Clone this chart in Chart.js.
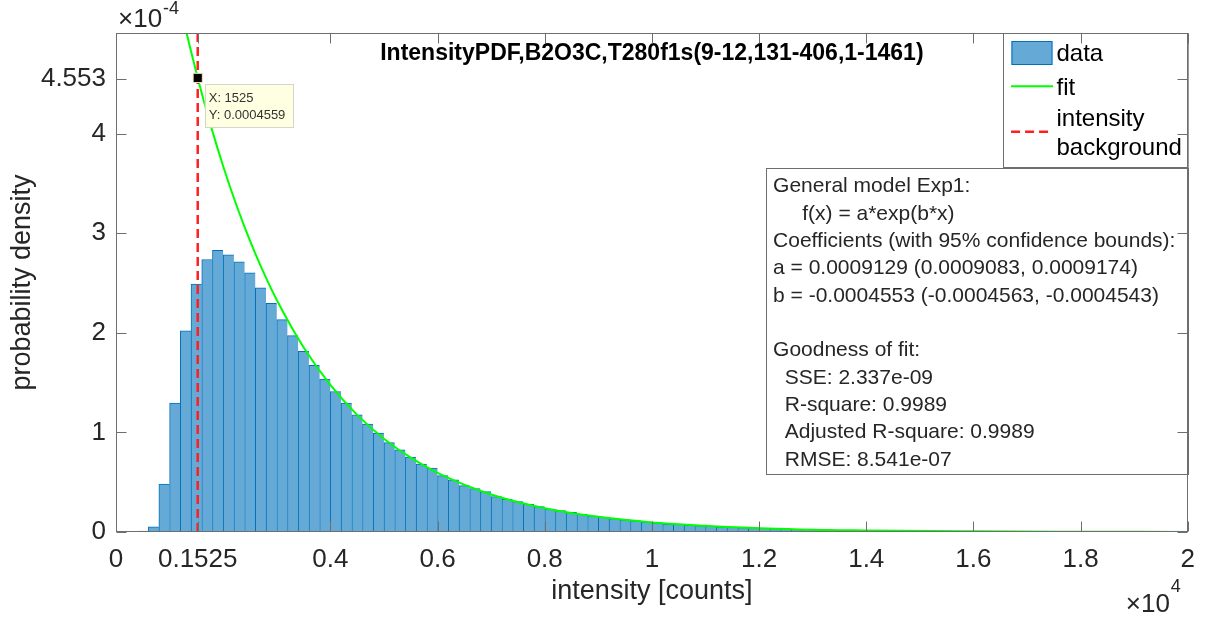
<!DOCTYPE html>
<html>
<head>
<meta charset="utf-8">
<script src="https://cdn.jsdelivr.net/npm/chart.js@4.4.0/dist/chart.umd.min.js"></script>
<style>
  html, body { margin: 0; padding: 0; background: #fff; }
</style>
</head>
<body>
<canvas id="pdfChart" width="1207" height="618"></canvas>
<script>
// histogram bins (bin centres, counts) and probability density (x 1e-4)
var binCenters = [
  500, 700, 900, 1100, 1300, 1500, 1700, 1900, 2100, 2300,
  2500, 2700, 2900, 3100, 3300, 3500, 3700, 3900, 4100, 4300,
  4500, 4700, 4900, 5100, 5300, 5500, 5700, 5900, 6100, 6300,
  6500, 6700, 6900, 7100, 7300, 7500, 7700, 7900, 8100, 8300,
  8500, 8700, 8900, 9100, 9300, 9500, 9700, 9900, 10100, 10300,
  10500, 10700, 10900, 11100, 11300, 11500, 11700, 11900, 12100, 12300,
  12500, 12700, 12900, 13100, 13300, 13500, 13700, 13900, 14100, 14300,
  14500, 14700, 14900, 15100, 15300, 15500, 15700, 15900, 16100, 16300,
  16500, 16700, 16900, 17100, 17300, 17500, 17700, 17900, 18100, 18300,
  18500, 18700, 18900, 19100, 19300, 19500, 19700, 19900
];
var density = [
  0.01, 0.053, 0.48, 1.295, 2.02, 2.49, 2.736, 2.827, 2.783, 2.713,
  2.603, 2.452, 2.297, 2.133, 1.972, 1.814, 1.673, 1.535, 1.411, 1.295,
  1.177, 1.083, 0.993, 0.898, 0.825, 0.751, 0.681, 0.641, 0.566, 0.523,
  0.466, 0.436, 0.405, 0.355, 0.329, 0.305, 0.278, 0.255, 0.231, 0.214,
  0.198, 0.178, 0.161, 0.148, 0.134, 0.121, 0.111, 0.101, 0.091, 0.080,
  0.077, 0.070, 0.064, 0.058, 0.053, 0.049, 0.044, 0.041, 0.037, 0.034,
  0.031, 0.028, 0.026, 0.024, 0.021, 0.020, 0.018, 0.016, 0.015, 0.014,
  0.012, 0.011, 0.010, 0.009, 0.009, 0.008, 0.007, 0.007, 0.006, 0.005,
  0.005, 0.005, 0.004, 0.004, 0.004, 0.003, 0.003, 0.003, 0.002, 0.002,
  0.002, 0.002, 0.002, 0.002, 0.001, 0.001, 0.001, 0.001
];

// fitted curve, sampled (x in counts, y x 1e-4)
var fitX = [1300, 1400, 1525, 1600, 1800, 2000, 2200, 2400, 2600, 2800, 3000,
            3500, 4000, 4500, 5000, 5500, 6000, 7000, 8000, 9000, 10000,
            12000, 14000, 16000, 18000, 20000];
var fitY = [5.051, 4.826, 4.559, 4.406, 4.022, 3.672, 3.353, 3.061, 2.795, 2.551, 2.330,
            1.855, 1.477, 1.176, 0.937, 0.746, 0.594, 0.377, 0.239, 0.152, 0.0962,
            0.0387, 0.0156, 0.0063, 0.0025, 0.0010];

var bgIntensity = 1525;
var tipX = 1525;
var tipY = 4.559;

var xTicks = [0, 1525, 4000, 6000, 8000, 10000, 12000, 14000, 16000, 18000, 20000];
var yTicks = [0, 1, 2, 3, 4, 4.553];
var xMax = 20000;
var yMax = 5.01;

var chartTitle = 'IntensityPDF,B2O3C,T280f1s(9-12,131-406,1-1461)';
var fitLines = [
  'General model Exp1:',
  '     f(x) = a*exp(b*x)',
  'Coefficients (with 95% confidence bounds):',
  'a = 0.0009129 (0.0009083, 0.0009174)',
  'b = -0.0004553 (-0.0004563, -0.0004543)',
  '',
  'Goodness of fit:',
  '  SSE: 2.337e-09',
  '  R-square: 0.9989',
  '  Adjusted R-square: 0.9989',
  '  RMSE: 8.541e-07'
];

var FONT = "'Liberation Sans', Arial, Helvetica, sans-serif";
var TEXT = '#262626';
var AXIS = '#6e6e6e';
var BAR_FILL = 'rgb(101,169,215)';
var BAR_EDGE = 'rgb(0,114,189)';
Chart.defaults.font.family = FONT;

// title, legend, fit box, axes box with inward ticks, data tip
var decor = {
  id: 'decor',
  afterDatasetsDraw: function(chart) {
    var ctx = chart.ctx, a = chart.chartArea;
    var xs = chart.scales.x, ys = chart.scales.y;
    ctx.save();

    // title inside the axes
    ctx.fillStyle = '#000';
    ctx.font = 'bold 23px ' + FONT;
    ctx.textAlign = 'center';
    ctx.textBaseline = 'middle';
    ctx.fillText(chartTitle, (a.left + a.right) / 2, a.top + 21);

    // legend
    var lx = a.right - 184.7, ly = a.top, lw = 184.7, lh = 133.7;
    ctx.fillStyle = '#fff';
    ctx.fillRect(lx, ly, lw, lh);
    ctx.strokeStyle = AXIS;
    ctx.lineWidth = 1;
    ctx.strokeRect(Math.round(lx) + 0.5, ly + 0.5, lw, Math.round(lh));
    ctx.font = '24px ' + FONT;
    ctx.textAlign = 'left';
    ctx.fillStyle = '#000';
    var rows = [[21.3], [55.3], [86, 115.3]];
    var ds = chart.data.datasets.filter(function(d) { return d.label; });
    ds.forEach(function(d, i) {
      var r = rows[i];
      var midY = ly + (r[0] + r[r.length - 1]) / 2;
      var words = r.length > 1 ? d.label.split(' ') : [d.label];
      if (d.type === 'bar') {
        ctx.fillStyle = d.backgroundColor;
        ctx.fillRect(lx + 8.4, ly + 8, 41, 24);
        ctx.strokeStyle = d.borderColor;
        ctx.lineWidth = 1;
        ctx.strokeRect(lx + 8.9, ly + 8.5, 40, 23);
      } else {
        ctx.strokeStyle = d.borderColor;
        ctx.lineWidth = d.borderWidth;
        ctx.setLineDash(d.borderDash || []);
        ctx.beginPath();
        ctx.moveTo(lx + 8, midY - 2);
        ctx.lineTo(lx + 50, midY - 2);
        ctx.stroke();
        ctx.setLineDash([]);
      }
      ctx.fillStyle = '#000';
      words.forEach(function(w, k) {
        ctx.fillText(w, lx + 53.4, ly + r[k]);
      });
    });

    // fit results box
    var bx = a.right - 422, by = a.top + 135.3, bw = 422, bh = 305.7;
    ctx.fillStyle = '#fff';
    ctx.fillRect(bx, by, bw, bh);
    ctx.strokeStyle = AXIS;
    ctx.lineWidth = 1;
    ctx.strokeRect(Math.round(bx) + 0.5, Math.round(by) + 0.5, bw, Math.round(bh));
    ctx.fillStyle = TEXT;
    ctx.font = '21px ' + FONT;
    ctx.textAlign = 'left';
    fitLines.forEach(function(t, i) {
      ctx.fillText(t, bx + 7.3, by + 18.4 + i * 27.33);
    });

    // axes box
    ctx.strokeStyle = AXIS;
    ctx.lineWidth = 1;
    var L = Math.round(a.left) + 0.5, R = Math.round(a.right) - 0.5;
    var T = Math.round(a.top) + 0.5, B = Math.round(a.bottom) - 0.5;
    ctx.strokeRect(L, T, R - L, B - T);
    // inward ticks on all four sides
    ctx.beginPath();
    xTicks.forEach(function(v) {
      var px = Math.round(xs.getPixelForValue(v)) + 0.5;
      ctx.moveTo(px, B); ctx.lineTo(px, B - 10);
      ctx.moveTo(px, T); ctx.lineTo(px, T + 10);
    });
    yTicks.forEach(function(v) {
      var py = Math.round(ys.getPixelForValue(v)) + 0.5;
      ctx.moveTo(L, py); ctx.lineTo(L + 10, py);
      ctx.moveTo(R, py); ctx.lineTo(R - 10, py);
    });
    ctx.stroke();

    // exponent labels
    ctx.fillStyle = TEXT;
    ctx.textBaseline = 'alphabetic';
    ctx.font = '26px ' + FONT;
    ctx.fillText('\u00d710', a.left + 2, a.top - 6);
    var w1 = ctx.measureText('\u00d710').width;
    ctx.font = '18px ' + FONT;
    ctx.fillText('-4', a.left + 3 + w1, a.top - 19);
    ctx.font = '26px ' + FONT;
    ctx.fillText('\u00d710', a.right - 62, a.bottom + 80);
    ctx.font = '18px ' + FONT;
    ctx.fillText('4', a.right - 62 + w1 + 1, a.bottom + 60);

    // data tip
    var tx = xs.getPixelForValue(tipX), ty = ys.getPixelForValue(tipY);
    ctx.fillStyle = '#ffffe1';
    ctx.fillRect(tx + 7, ty + 6, 88, 43);
    ctx.strokeStyle = '#d6d6c8';
    ctx.strokeRect(Math.round(tx + 7) + 0.5, Math.round(ty + 6) + 0.5, 88, 43);
    ctx.fillStyle = '#333';
    ctx.font = '13px ' + FONT;
    ctx.textBaseline = 'middle';
    ctx.fillText('X: ' + tipX, tx + 11, ty + 20.6);
    ctx.fillText('Y: ' + (tipY * 1e-4).toPrecision(4), tx + 11, ty + 37.3);

    ctx.restore();
  }
};

var ctx = document.getElementById('pdfChart');
var myChart = new Chart(ctx, {
  type: 'bar',
  data: {
    datasets: [{
      type: 'bar',
      label: 'data',
      data: binCenters.map(function(c, i) { return { x: c, y: density[i] }; }),
      backgroundColor: BAR_FILL,
      borderColor: BAR_EDGE,
      borderWidth: { top: 1, left: 1, right: 0, bottom: 0 },
      borderSkipped: 'start',
      barPercentage: 1,
      categoryPercentage: 1,
      order: 3
    }, {
      type: 'line',
      label: 'fit',
      data: fitX.map(function(v, i) { return { x: v, y: fitY[i] }; }),
      borderColor: '#00ff00',
      borderWidth: 2,
      pointRadius: 0,
      cubicInterpolationMode: 'monotone',
      fill: false,
      order: 2
    }, {
      type: 'line',
      label: 'intensity background',
      data: [{ x: bgIntensity, y: 0 }, { x: bgIntensity, y: yMax }],
      borderColor: '#ff1f1f',
      borderWidth: 2.5,
      borderDash: [9, 5],
      pointRadius: 0,
      fill: false,
      order: 1
    }, {
      type: 'line',
      data: [{ x: tipX, y: tipY }],
      showLine: false,
      pointStyle: 'rect',
      pointRadius: 6.5,
      pointBackgroundColor: '#000',
      pointBorderColor: '#eeeab8',
      pointBorderWidth: 1,
      order: 0
    }]
  },
  options: {
    responsive: false,
    animation: false,
    devicePixelRatio: 1,
    events: [],
    layout: { padding: { top: 33, right: 19, left: 0, bottom: 0 } },
    plugins: {
      legend: { display: false },
      tooltip: { enabled: false }
    },
    scales: {
      x: {
        type: 'linear',
        min: 0,
        max: xMax,
        offset: false,
        bounds: 'data',
        grid: { display: false, drawTicks: false },
        border: { display: false },
        afterBuildTicks: function(s) { s.ticks = xTicks.map(function(v) { return { value: v }; }); },
        afterFit: function(s) { s.height = 86; },
        ticks: {
          autoSkip: false,
          maxRotation: 0,
          padding: 12,
          color: TEXT,
          font: { size: 26 },
          callback: function(v) { return String(v / 10000); }
        },
        title: {
          display: true,
          text: 'intensity [counts]',
          color: TEXT,
          font: { size: 27 },
          padding: { top: 0, bottom: 10 }
        }
      },
      y: {
        min: 0,
        max: yMax,
        bounds: 'data',
        grid: { display: false, drawTicks: false },
        border: { display: false },
        afterBuildTicks: function(s) { s.ticks = yTicks.map(function(v) { return { value: v }; }); },
        afterFit: function(s) { s.width = 116; },
        ticks: {
          padding: 10,
          color: TEXT,
          font: { size: 26 },
          callback: function(v) { return String(v); }
        },
        title: {
          display: true,
          text: 'probability density',
          color: TEXT,
          font: { size: 27 },
          padding: { top: 6, bottom: 0 }
        }
      }
    }
  },
  plugins: [decor]
});
</script>
</body>
</html>
